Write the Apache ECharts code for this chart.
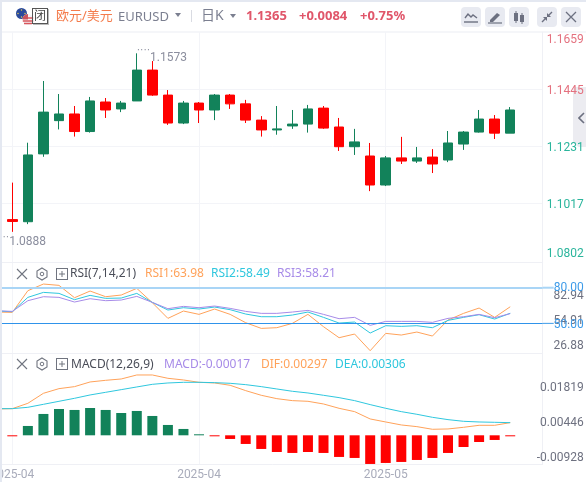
<!DOCTYPE html>
<html lang="zh">
<head>
<meta charset="UTF-8">
<title>EURUSD</title>
<script src="https://cdn.jsdelivr.net/npm/echarts@6/dist/echarts.min.js"></script>
<style>
    html,body{margin:0;padding:0;background:#e4e8f1;}
    #page{position:relative;width:586px;height:482px;overflow:hidden;font-family:"Noto Sans","Noto Sans CJK SC",sans-serif;}
    #bg{position:absolute;left:2px;top:2px;width:584px;height:480px;background:#fff;}
    #chart{position:absolute;left:2px;top:2px;width:584px;height:480px;}
    .t{position:absolute;white-space:nowrap;line-height:16px;font-size:12px;}
    .btn{position:absolute;top:7px;width:20px;height:20px;background:#e8eaf1;border-radius:4px;}
    .ic{position:absolute;}
    #tab{position:absolute;left:573px;top:87px;width:13px;height:60px;background:#ececf1;clip-path:polygon(0 0,100% 0,100% 100%,40% 100%,0 92%);}
</style>
</head>
<body>
<div id="page">
    <div id="bg"></div>
    <div style="position:absolute;left:2px;top:31px;width:584px;height:2px;background:#f5f6f9"></div>
    <div id="tab"></div>
    <div id="chart"></div>

    <svg class="ic" style="left:15px;top:7px" width="20" height="19" viewBox="0 0 20 19">
        <circle cx="6.5" cy="6.5" r="5.5" fill="#2a4a9c"/>
        <circle cx="6.5" cy="3" r=".7" fill="#f2d34a"/><circle cx="3" cy="6.5" r=".7" fill="#f2d34a"/>
        <circle cx="10" cy="6.5" r=".7" fill="#f2d34a"/><circle cx="6.5" cy="10" r=".7" fill="#f2d34a"/>
        <circle cx="13" cy="12.5" r="5.5" fill="#f4f4f6"/>
        <path d="M7.8 11h10.4M7.8 14h10.4M9 16.5h8" stroke="#d9565c" stroke-width="1.4"/>
        <path d="M7.5 12.5a5.5 5.5 0 0 1 5.5-5.5v5.5z" fill="#c9535c"/>
    </svg>
    <div class="t" style="left:32px;top:8px;width:14px;height:14px;border:1px solid #555;box-shadow:1px 1px 0 #bbb;line-height:14px;text-align:center;font-size:12px;color:#444">闭</div>
    <div class="t" style="left:56px;top:7px;font-size:13px;color:#f47c4c">欧元/美元</div>
    <div class="t" style="left:118px;top:8px;font-size:13px;color:#7b7f90">EURUSD</div>
    <svg class="ic" style="left:175px;top:13px" width="6" height="4"><path d="M0 0h6l-3 4z" fill="#7b7f90"/></svg>
    <div style="position:absolute;left:191px;top:10px;width:1px;height:12px;background:#d9dbe2"></div>
    <div class="t" style="left:201px;top:7px;font-size:14px;color:#7b7f90">日K</div>
    <svg class="ic" style="left:230px;top:14px" width="6" height="4"><path d="M0 0h6l-3 4z" fill="#7b7f90"/></svg>
    <div class="t" style="left:246px;top:7px;font-size:13px;font-weight:700;color:#e0566a">1.1365</div>
    <div class="t" style="left:299px;top:7px;font-size:13px;font-weight:700;color:#e0566a">+0.0084</div>
    <div class="t" style="left:360px;top:7px;font-size:13px;font-weight:700;color:#e0566a">+0.75%</div>

    <div class="btn" style="left:461px"><svg width="20" height="20"><path d="M4 11l3-4 3 3 2-2 4 3" fill="none" stroke="#6c7080" stroke-width="1.4"/><path d="M3 15h14" stroke="#6c7080" stroke-width="1.4"/></svg></div>
    <div class="btn" style="left:485px"><svg width="20" height="20"><path d="M5 13l7-7 3 2-7 7H5z" fill="#6c7080"/><path d="M3 16h14" stroke="#6c7080" stroke-width="1.2"/></svg></div>
    <div class="btn" style="left:509px"><svg width="20" height="20"><path d="M7 4v12M13 6v11" stroke="#6c7080"/><rect x="5" y="6" width="4" height="8" fill="#6c7080"/><rect x="11" y="8" width="4" height="7" fill="#6c7080"/></svg></div>
    <div class="btn" style="left:537px"><svg width="20" height="20"><path d="M5 15l4-4M15 5l-4 4" stroke="#6c7080" stroke-width="1.4"/><path d="M6 10h4v4zM14 10h-4V6z" fill="#6c7080"/></svg></div>
    <div class="btn" style="left:561px"><svg width="20" height="20"><path d="M5 5l10 10M15 5L5 15" stroke="#6c7080" stroke-width="1.3"/></svg></div>

    <svg class="ic" style="left:578px;top:112px" width="7" height="12"><path d="M6 1L1 6l5 5" fill="none" stroke="#6c7080" stroke-width="1.6"/></svg>

    <svg class="ic" style="left:16px;top:267px" width="54" height="14" viewBox="0 0 54 14">
        <path d="M1 1l10 10M11 1L1 11" stroke="#70747f" stroke-width="1.1" transform="translate(0 1)"/>
        <path d="M26 1l5 3v6l-5 3-5-3V4z" fill="none" stroke="#70747f" stroke-width="1.1"/><circle cx="26" cy="7" r="1.8" fill="none" stroke="#70747f"/>
        <rect x="40.5" y="1.5" width="11" height="11" fill="none" stroke="#70747f"/><path d="M43 7h6M46 4v6" stroke="#70747f"/>
    </svg>
    <div class="t" style="left:70px;top:265px;color:#4a4d58">RSI(7,14,21)</div>
    <div class="t" style="left:145px;top:265px;color:#ffa25a">RSI1:63.98</div>
    <div class="t" style="left:211px;top:265px;color:#2fc7de">RSI2:58.49</div>
    <div class="t" style="left:277px;top:265px;color:#a78be8">RSI3:58.21</div>

    <svg class="ic" style="left:16px;top:357px" width="54" height="14" viewBox="0 0 54 14">
        <path d="M1 1l10 10M11 1L1 11" stroke="#70747f" stroke-width="1.1" transform="translate(0 1)"/>
        <path d="M26 1l5 3v6l-5 3-5-3V4z" fill="none" stroke="#70747f" stroke-width="1.1"/><circle cx="26" cy="7" r="1.8" fill="none" stroke="#70747f"/>
        <rect x="40.5" y="1.5" width="11" height="11" fill="none" stroke="#70747f"/><path d="M43 7h6M46 4v6" stroke="#70747f"/>
    </svg>
    <div class="t" style="left:71px;top:356px;color:#4a4d58">MACD(12,26,9)</div>
    <div class="t" style="left:164px;top:356px;color:#a78be8">MACD:-0.00017</div>
    <div class="t" style="left:261px;top:356px;color:#ffa25a">DIF:0.00297</div>
    <div class="t" style="left:335px;top:356px;color:#2fc7de">DEA:0.00306</div>
</div>

<script type="text/javascript">
    // x labels sit on candle 0, 12, 24
    var dateTicks = [0, 12, 24];
    var dateLabels = ['2025-04', '2025-04', '2025-05'];

    // open, close, low, high
    var candles = [
        [1.0955,1.0948,1.0909,1.1094],[1.0947,1.1198,1.0938,1.1244],[1.1202,1.1359,1.1191,1.1476],
        [1.1327,1.1352,1.1294,1.1427],[1.1352,1.1286,1.1267,1.1382],[1.1286,1.1401,1.1282,1.1416],
        [1.1397,1.1367,1.1337,1.1412],[1.1371,1.1393,1.1359,1.1401],[1.1401,1.1517,1.1401,1.1580],
        [1.1517,1.1423,1.1420,1.1551],[1.1423,1.1318,1.1311,1.1442],[1.1318,1.1393,1.1314,1.1401],
        [1.1393,1.1367,1.1318,1.1397],[1.1367,1.1423,1.1329,1.1427],[1.1423,1.1390,1.1371,1.1427],
        [1.1390,1.1329,1.1318,1.1405],[1.1329,1.1292,1.1267,1.1344],[1.1292,1.1296,1.1274,1.1382],
        [1.1307,1.1314,1.1296,1.1367],[1.1314,1.1371,1.1282,1.1386],[1.1374,1.1299,1.1296,1.1382],
        [1.1303,1.1229,1.1213,1.1337],[1.1229,1.1247,1.1198,1.1296],[1.1194,1.1085,1.1062,1.1243],
        [1.1085,1.1187,1.1081,1.1194],[1.1187,1.1175,1.1164,1.1266],[1.1175,1.1187,1.1168,1.1228],
        [1.1190,1.1164,1.1130,1.1220],[1.1179,1.1243,1.1171,1.1288],[1.1239,1.1284,1.1217,1.1288],
        [1.1284,1.1333,1.1282,1.1367],[1.1333,1.1280,1.1258,1.1348],[1.1280,1.1367,1.1280,1.1378]
    ];
    var priceTicks = [1.0802, 1.1017, 1.1231, 1.1445, 1.1659];
    var priceGrid = [1.1017, 1.1231, 1.1445];

    // indicator lines start one candle earlier, off the left edge
    var rsi1 = [59.53,59.25,77.48,83.08,81.96,71.59,77.20,72.43,73.83,79.44,67.38,54.21,60.37,57.57,62.06,57.57,50.56,45.79,46.36,50.00,57.57,47.20,37.94,41.03,27.01,41.59,40.19,42.71,39.35,52.80,58.41,62.90,55.05,63.98];
    var rsi2 = [60.37,59.81,71.87,76.07,75.23,69.91,73.55,71.03,71.31,75.23,67.66,61.22,63.18,62.06,63.74,61.50,57.85,55.61,55.61,57.01,59.53,55.05,50.28,51.12,41.87,48.04,47.48,48.04,46.36,52.52,55.05,57.29,53.65,58.49];
    var rsi3 = [60.65,60.09,69.07,72.43,71.87,67.94,70.75,69.07,69.63,72.71,67.66,62.34,64.30,63.18,64.58,62.62,60.09,58.41,58.41,59.53,60.93,57.57,53.93,55.05,48.32,51.68,51.68,51.68,50.84,54.21,55.61,57.57,54.77,58.21];
    var rsiTicks = [26.88, 54.91, 82.94];

    var dif = [.00863,.00874,.01049,.01377,.01530,.01596,.01749,.01803,.01847,.01978,.01978,.01869,.01814,.01738,.01716,.01640,.01465,.01312,.01202,.01137,.01115,.01027,.00885,.00776,.00536,.00437,.00339,.00284,.00197,.00208,.00262,.00328,.00328,.00415];
    var dea = [.00874,.00874,.00918,.01016,.01115,.01213,.01323,.01410,.01497,.01585,.01672,.01716,.01738,.01738,.01727,.01705,.01661,.01596,.01519,.01443,.01388,.01312,.01235,.01137,.01006,.00885,.00776,.00689,.00590,.00514,.00459,.00437,.00426,.00415];
    var hist = [-.00002,.00306,.00700,.00863,.00831,.00896,.00831,.00732,.00798,.00634,.00339,.00208,.00002,-.00002,-.00120,-.00284,-.00448,-.00547,-.00579,-.00547,-.00579,-.00710,-.00743,-.00940,-.00907,-.00874,-.00809,-.00743,-.00579,-.00383,-.00219,-.00153,-.00017];
    var macdTicks = [-0.00928, 0.00446, 0.01819];

    var GREEN = '#12825a', RED = '#ff0000', ORANGE = '#ffa25a', CYAN = '#2fc7de', PURPLE = '#a78be8';
    var LINE = '#eff0f5', FONT = 'Roboto';
    var X_MIN = -0.662, X_MAX = 34.087;

    function xAxis(gridIndex, withLabels) {
        return {
            type: 'value', gridIndex: gridIndex, min: X_MIN, max: X_MAX,
            axisLine: {show: true, onZero: false, lineStyle: {color: LINE}},
            axisTick: {show: false, customValues: dateTicks},
            splitLine: {show: true, lineStyle: {color: '#f3f4f8', width: 1}},
            axisLabel: withLabels ? {
                show: true, customValues: dateTicks, margin: 5, color: '#a9acbb', fontFamily: FONT, fontSize: 12,
                formatter: function (v) { return dateLabels[dateTicks.indexOf(v)]; }
            } : {show: false}
        };
    }

    // shift names a rich style, its padding moves the label off its tick
    function yAxis(gridIndex, min, max, grid, ticks, text, shift, color) {
        return {
            type: 'value', gridIndex: gridIndex, position: 'right', min: min, max: max, scale: true,
            axisLine: {show: true, onZero: false, lineStyle: {color: LINE}},
            axisTick: {show: false, customValues: grid},
            splitLine: {show: grid.length > 0, lineStyle: {color: '#f3f4f8'}},
            axisLabel: {
                customValues: ticks, margin: 41, align: 'right', fontFamily: FONT, fontSize: 12, color: color,
                formatter: function (v) { return '{' + shift(v) + '|' + text(v) + '}'; },
                rich: {
                    n: {}, mainMid: {padding: [4, 0, 0, 0]}, mainTop: {padding: [16, 0, 0, 0]}, mainLow: {padding: [0, 0, 12, 0]},
                    rsiMid: {padding: [6, 0, 0, 0]}, rsiTop: {padding: [24, 0, 0, 0]}, rsiLow: {padding: [0, 0, 9, 0]},
                    macdTop: {padding: [16, 0, 0, 0]}, macdMid: {padding: [2, 0, 0, 0]}, macdLow: {padding: [0, 0, 12, 0]}
                }
            }
        };
    }

    function indexed(arr, start) {
        return arr.map(function (v, i) { return [i + start, v]; });
    }

    function line(name, arr, color, axis) {
        return {
            name: name, type: 'line', data: indexed(arr, -1), xAxisIndex: axis, yAxisIndex: axis,
            showSymbol: false, silent: true, lineStyle: {color: color, width: 1}
        };
    }

    var rsiOne = line('RSI1', rsi1, ORANGE, 1);
    rsiOne.markLine = {
        silent: true, symbol: 'none', animation: false,
        data: [
            {yAxis: 80, lineStyle: {color: '#a9d5f6', width: 2, type: 'solid'},
                label: {position: 'end', distance: 0, formatter: '{b|}{t|80.00}', rich: {b: {width: 11, height: 2, backgroundColor: '#a9d5f6'}, t: {color: '#3d9be9', fontSize: 12, fontFamily: FONT}}}},
            {yAxis: 50, lineStyle: {color: '#2f93ea', width: 1.2, type: 'solid', opacity: 1},
                label: {position: 'end', distance: 0, formatter: '{b|}{t|50.00}', rich: {b: {width: 11, height: 1, backgroundColor: '#3d9be9'}, t: {color: '#3d9be9', fontSize: 12, fontFamily: FONT, padding: [3, 0, 0, 0]}}}}
        ]
    };

    var option = {
        animation: false,
        grid: [
            {left: 0, right: 43.3, top: 30.3, height: 230.4, outerBoundsMode: 'none'},
            {left: 0, right: 43.3, top: 260.7, height: 90.6, outerBoundsMode: 'none'},
            {left: 0, right: 43.3, top: 351.3, height: 111, outerBoundsMode: 'none'}
        ],
        xAxis: [xAxis(0, false), xAxis(1, false), xAxis(2, true)],
        yAxis: [
            yAxis(0, 1.0793, 1.1659, priceGrid, priceTicks,
                function (v) { return v.toFixed(4); },
                function (v) { return v === priceTicks[0] ? 'mainLow' : v === priceTicks[4] ? 'mainTop' : 'mainMid'; },
                function (v) { return v > 1.13 ? '#e4717f' : '#2bb59c'; }),
            yAxis(1, 24.83, 101.03, [], rsiTicks,
                function (v) { return v.toFixed(2); },
                function (v) { return v === rsiTicks[0] ? 'rsiLow' : v === rsiTicks[2] ? 'rsiTop' : 'rsiMid'; },
                '#6e7180'),
            yAxis(2, -0.00951, 0.02689, [], macdTicks,
                function (v) { return v.toFixed(5); },
                function (v) { return v === macdTicks[0] ? 'macdLow' : v === macdTicks[2] ? 'macdTop' : 'macdMid'; },
                '#6e7180')
        ],
        series: [
            {
                name: 'EURUSD', type: 'candlestick', barWidth: 10, clip: false,
                data: candles.map(function (c, i) { return [i].concat(c); }),
                itemStyle: {color: GREEN, color0: RED, borderColor: GREEN, borderColor0: RED, borderWidth: 1},
                markPoint: {
                    symbol: 'circle', symbolSize: 0, silent: true, animation: false,
                    data: [
                        {coord: [8, 1.1580], label: {position: 'right', distance: 0, formatter: '{d|····}{t|1.1573}', rich: {d: {color: '#8b8e9e', fontSize: 10, padding: [0, 0, 6, 0]}, t: {color: '#8b8e9e', fontSize: 12, fontFamily: FONT, padding: [10, 0, 0, 0]}}}},
                        {coord: [0, 1.0909], label: {position: 'bottom', distance: 0, formatter: '{d|··}{t|1.0888}', offset: [12, 0], rich: {d: {color: '#8b8e9e', fontSize: 10, padding: [0, 0, 6, 0]}, t: {color: '#8b8e9e', fontSize: 12, fontFamily: FONT, padding: [4, 0, 0, 0]}}}}
                    ]
                }
            },
            rsiOne,
            line('RSI2', rsi2, CYAN, 1),
            line('RSI3', rsi3, PURPLE, 1),
            {
                name: 'MACD', type: 'bar', xAxisIndex: 2, yAxisIndex: 2, barWidth: 10, barMinHeight: 1, silent: true,
                data: indexed(hist, 0),
                itemStyle: {color: function (p) { return p.value[1] >= 0 ? GREEN : RED; }}
            },
            line('DIF', dif, ORANGE, 2),
            line('DEA', dea, CYAN, 2)
        ]
    };
    echarts.init(document.getElementById('chart')).setOption(option);
</script>
</body>
</html>
